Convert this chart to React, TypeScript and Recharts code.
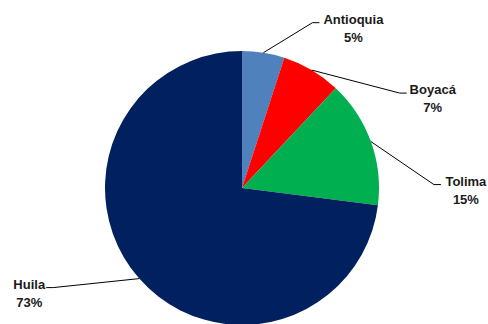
import { PieChart, Pie, Cell } from "recharts";

const regions = ["Antioquia", "Boyacá", "Tolima", "Huila"];
const shares = [5, 7, 15, 73];
const colors = ["#4F81BD", "#FF0000", "#00B050", "#002060"];

// leader elbow offset (ex, ey) and text centre offset (tx) from the slice edge point
const labelLayout: Record<string, { ex: number; ey: number; tx: number }> = {
  Antioquia: { ex: 49, ey: -30, tx: 90 },
  Boyacá: { ex: 88, ey: 23, tx: 121 },
  Tolima: { ex: 63, ey: 43, tx: 95 },
  Huila: { ex: -86, ey: 9, tx: -110 },
};

const data = regions.map((name, i) => ({ name, value: shares[i] }));

const RAD = Math.PI / 180;

function renderLabel(props: any) {
  const { cx, cy, midAngle, outerRadius, name, value } = props;
  const x0 = cx + outerRadius * Math.cos(-midAngle * RAD);
  const y0 = cy + outerRadius * Math.sin(-midAngle * RAD);
  const lay = labelLayout[name];
  const ex = x0 + lay.ex;
  const ey = y0 + lay.ey;
  const dir = lay.ex > 0 ? 1 : -1;
  const hx = ex + dir * 7;
  const tx = x0 + lay.tx;
  return (
    <g>
      <polyline
        points={`${x0},${y0} ${ex},${ey} ${hx},${ey}`}
        fill="none"
        stroke="#000"
        strokeWidth={1}
      />
      <text
        x={tx}
        y={ey + 1}
        textAnchor="middle"
        fontFamily="'Liberation Sans', Arial, sans-serif"
        fontWeight="bold"
        fontSize={13}
        fill="#1a1a1a"
      >
        <tspan x={tx}>{name}</tspan>
        <tspan x={tx} dy={18}>{`${value}%`}</tspan>
      </text>
    </g>
  );
}

export default function App() {
  return (
    <div style={{ position: "fixed", left: 0, top: 0, width: 488, height: 324, background: "#fff" }}>
      <style>{`.recharts-pie-sectors { filter: drop-shadow(0 0 2px rgba(0,0,0,0.35)); }`}</style>
      <PieChart width={488} height={324} margin={{ top: 0, right: 0, bottom: 0, left: 0 }}>
        <Pie
          data={data}
          dataKey="value"
          nameKey="name"
          cx={242}
          cy={188}
          outerRadius={137}
          startAngle={90}
          endAngle={-270}
          stroke="none"
          label={renderLabel}
          labelLine={false}
          isAnimationActive={false}
        >
          {data.map((d, i) => (
            <Cell key={d.name} fill={colors[i]} />
          ))}
        </Pie>
      </PieChart>
    </div>
  );
}
